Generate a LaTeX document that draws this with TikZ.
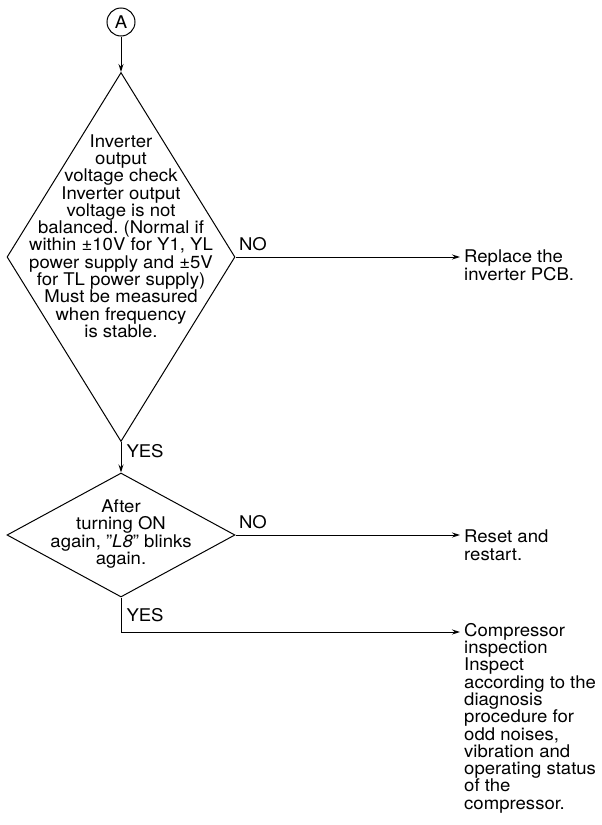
\documentclass[tikz,border=0pt]{standalone}
\usepackage{fontspec}
\setmainfont[FakeStretch=1.06]{TeX Gyre Heros}
\usetikzlibrary{shapes.geometric, arrows.meta}
\frenchspacing

\begin{document}
\begin{tikzpicture}[x=1pt, y=-1pt, >={Stealth[length=8pt,width=5pt]},
    every node/.style={font=\fontsize{17.5}{17.3}\selectfont},
    flow/.style={->, line width=1pt},
    decision/.style={diamond, draw, line width=1pt, inner sep=0pt},
    inside/.style={align=center, inner sep=0pt},
    outcome/.style={align=left, anchor=north west, inner xsep=4pt, inner ysep=0pt},
    answer/.style={inner sep=3pt}]
    \useasboundingbox (0,0) rectangle (602,825);

    \node[circle, draw, line width=1pt, minimum size=28pt, inner sep=0pt] (start) at (121,22) {A};

    % first check
    \node[decision, minimum width=228pt, minimum height=369pt] (check) at (121,257) {};
    \node[inside] (checktext) at (121,236) {Inverter\\output\\voltage check\\Inverter output\\voltage is not\\balanced. (Normal if\\within ±10V for Y1, YL\\power supply and ±5V\\for TL power supply)\\Must be measured\\when frequency\\is stable.};

    % second check
    \node[decision, minimum width=228pt, minimum height=124pt] (restart) at (121,535) {};
    \node[inside] (restarttext) at (121,534) {After\\turning ON\\again, "\textit{L8}" blinks\\again.};

    \node[outcome] (replace) at (460,250) {Replace the\\inverter PCB.};
    \node[outcome] (reset) at (460,530) {Reset and\\restart.};
    \node[outcome] (inspect) at (460,623) {Compressor\\inspection\\Inspect\\according to the\\diagnosis\\procedure for\\odd noises,\\vibration and\\operating status\\of the\\compressor.};

    \coordinate (turn) at (121,632);

    \draw[flow] (start) -- (check.north);
    \draw[flow] (check.east) -- (check.east -| replace.west) node[pos=0, anchor=south west, answer, yshift=3pt] {NO};
    \draw[flow] (check.south) -- (restart.north) node[pos=0.3, anchor=west, answer, xshift=2pt] {YES};
    \draw[flow] (restart.east) -- (restart.east -| reset.west) node[pos=0, anchor=south west, answer, yshift=3pt] {NO};
    \draw[flow] (restart.south) -- (turn) node[midway, anchor=west, answer, xshift=2pt] {YES} -- (turn -| inspect.west);
\end{tikzpicture}
\end{document}
